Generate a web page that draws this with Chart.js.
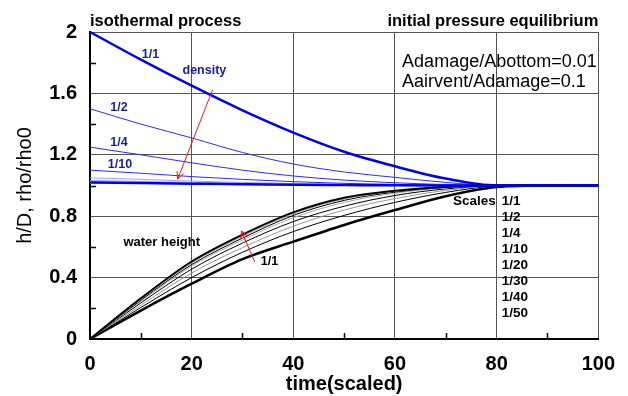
<!DOCTYPE html>
<html>
<head>
<meta charset="utf-8">
<script src="https://cdn.jsdelivr.net/npm/chart.js@4/dist/chart.umd.min.js"></script>
<style>
  html, body { margin: 0; padding: 0; background: #fff; }
  #wrap { width: 628px; height: 396px; }
</style>
</head>
<body>
<div id="wrap"><canvas id="tank" width="628" height="396"></canvas></div>
<script>
// model scales and sample times (scaled)
const scaleNames = ["1/1", "1/2", "1/4", "1/10", "1/20", "1/30", "1/40", "1/50"];
const timeSteps = [0, 10, 20, 30, 40, 50, 60, 70, 80, 90, 100];
const xTicks = [0, 20, 40, 60, 80, 100];
const yTicks = [0, 0.4, 0.8, 1.2, 1.6, 2];

// air density rho/rho0 in the compartment
const rho_1_1  = [2.0, 1.82, 1.65, 1.49, 1.345, 1.22, 1.125, 1.045, 1.0, 1.0, 1.0];
const rho_1_2  = [1.5, 1.40, 1.31, 1.215, 1.14, 1.088, 1.053, 1.02, 1.0, 1.0, 1.0];
const rho_1_4  = [1.25, 1.20, 1.148, 1.10, 1.062, 1.035, 1.018, 1.006, 1.0, 1.0, 1.0];
const rho_1_10 = [1.10, 1.08, 1.058, 1.04, 1.025, 1.014, 1.007, 1.002, 1.0, 1.0, 1.0];
const rho_1_20 = [1.05, 1.04, 1.029, 1.02, 1.013, 1.007, 1.003, 1.001, 1.0, 1.0, 1.0];
const rho_1_30 = [1.033, 1.027, 1.02, 1.013, 1.008, 1.005, 1.002, 1.0, 1.0, 1.0, 1.0];
const rho_1_40 = [1.025, 1.02, 1.015, 1.01, 1.006, 1.003, 1.001, 1.0, 1.0, 1.0, 1.0];
const rho_1_50 = [1.02, 1.016, 1.012, 1.008, 1.005, 1.003, 1.001, 1.0, 1.0, 1.0, 1.0];

// water height h/D
const h_1_1  = [0, 0.185, 0.36, 0.52, 0.634, 0.743, 0.84, 0.93, 0.99, 1.0, 1.0];
const h_1_2  = [0, 0.205, 0.40, 0.565, 0.70, 0.805, 0.89, 0.955, 0.996, 1.0, 1.0];
const h_1_4  = [0, 0.22, 0.43, 0.595, 0.735, 0.84, 0.915, 0.968, 0.998, 1.0, 1.0];
const h_1_10 = [0, 0.235, 0.455, 0.625, 0.765, 0.865, 0.935, 0.978, 0.999, 1.0, 1.0];
const h_1_20 = [0, 0.245, 0.475, 0.645, 0.79, 0.89, 0.95, 0.985, 1.0, 1.0, 1.0];
const h_1_30 = [0, 0.252, 0.485, 0.657, 0.805, 0.903, 0.957, 0.988, 1.0, 1.0, 1.0];
const h_1_40 = [0, 0.258, 0.495, 0.668, 0.815, 0.912, 0.962, 0.99, 1.0, 1.0, 1.0];
const h_1_50 = [0, 0.265, 0.505, 0.68, 0.825, 0.92, 0.966, 0.992, 1.0, 1.0, 1.0];

const rhoSeries = [rho_1_1, rho_1_2, rho_1_4, rho_1_10, rho_1_20, rho_1_30, rho_1_40, rho_1_50];
const hSeries = [h_1_1, h_1_2, h_1_4, h_1_10, h_1_20, h_1_30, h_1_40, h_1_50];

// line looks per scale
const rhoColors = ["#0000f0", "#2a2aff", "#2a2aff", "#2a2aff", "#a0a0ff", "#a0a0ff", "#a0a0ff", "#0000f0"];
const rhoWidths = [2.5, 1, 1, 1, 1, 1, 1, 2.5];
const hColors = ["#000", "#000", "#999", "#000", "#aaa", "#000", "#aaa", "#000"];
const hWidths = [2.5, 1, 1, 1, 1, 1, 1, 2];

const FONT = '"Liberation Sans", Arial, Helvetica, sans-serif';

function toPoints(values) {
  return timeSteps.map((t, i) => ({ x: t, y: values[i] }));
}

const datasets = [];
rhoSeries.forEach((vals, i) => {
  datasets.push({
    label: "density " + scaleNames[i],
    data: toPoints(vals),
    borderColor: rhoColors[i],
    borderWidth: rhoWidths[i],
    order: 8 - i,
  });
});
hSeries.forEach((vals, i) => {
  datasets.push({
    label: "water height " + scaleNames[i],
    data: toPoints(vals),
    borderColor: hColors[i],
    borderWidth: hWidths[i],
    order: 8 - i,
  });
});

// text notes, placed in data units
const notes = [
  { text: "1/1", x: 11.9, y: 1.85, color: "#1a1aa8", size: 12.5 },
  { text: "density", x: 22.5, y: 1.746, color: "#1a1aa8", size: 12.5 },
  { text: "1/2", x: 5.7, y: 1.505, color: "#1a1aa8", size: 12.5 },
  { text: "1/4", x: 5.7, y: 1.283, color: "#1a1aa8", size: 12.5 },
  { text: "1/10", x: 5.9, y: 1.134, color: "#1a1aa8", size: 12.5 },
  { text: "water height", x: 14.1, y: 0.632, color: "#000", size: 13 },
  { text: "1/1", x: 35.3, y: 0.502, color: "#000", size: 12.5 },
];

// red arrows: from -> tip, in data units
const arrows = [
  { x0: 24.1, y0: 1.622, x1: 17.25, y1: 1.042 },
  { x0: 32.4, y0: 0.502, x1: 29.8, y1: 0.704 },
];

function drawArrow(ctx, ax, ay, bx, by) {
  const ang = Math.atan2(by - ay, bx - ax);
  const len = 8;
  ctx.beginPath();
  ctx.moveTo(ax, ay);
  ctx.lineTo(bx, by);
  ctx.moveTo(bx, by);
  ctx.lineTo(bx - len * Math.cos(ang - 0.45), by - len * Math.sin(ang - 0.45));
  ctx.moveTo(bx, by);
  ctx.lineTo(bx - len * Math.cos(ang + 0.45), by - len * Math.sin(ang + 0.45));
  ctx.stroke();
}

const decorPlugin = {
  id: "decor",
  afterDraw(chart) {
    const { ctx, chartArea: area, scales: { x, y } } = chart;
    ctx.save();

    // minor inward ticks
    ctx.strokeStyle = "#000";
    ctx.lineWidth = 1.5;
    ctx.beginPath();
    [10, 30, 50, 70, 90].forEach((v) => {
      const px = Math.round(x.getPixelForValue(v)) + 0.5;
      ctx.moveTo(px, area.bottom);
      ctx.lineTo(px, area.bottom - 6);
    });
    [0.2, 0.6, 1.0, 1.4, 1.8].forEach((v) => {
      const py = Math.round(y.getPixelForValue(v)) + 0.5;
      ctx.moveTo(area.left, py);
      ctx.lineTo(area.left + 6, py);
    });
    ctx.stroke();

    // headings above the frame
    ctx.fillStyle = "#000";
    ctx.font = "bold 16.5px " + FONT;
    ctx.textBaseline = "middle";
    ctx.textAlign = "left";
    ctx.fillText("isothermal process", area.left, area.top - 11);
    ctx.textAlign = "right";
    ctx.fillText("initial pressure equilibrium", area.right, area.top - 11);

    // area ratios
    ctx.font = "18px " + FONT;
    ctx.textAlign = "left";
    ctx.fillText("Adamage/Abottom=0.01", x.getPixelForValue(61.4), y.getPixelForValue(1.805));
    ctx.fillText("Aairvent/Adamage=0.1", x.getPixelForValue(61.4), y.getPixelForValue(1.675));

    // curve notes
    ctx.textAlign = "center";
    notes.forEach((n) => {
      ctx.font = "bold " + n.size + "px " + FONT;
      ctx.fillStyle = n.color;
      ctx.fillText(n.text, x.getPixelForValue(n.x), y.getPixelForValue(n.y));
    });

    // list of scales
    ctx.font = "bold 13.5px " + FONT;
    ctx.fillStyle = "#000";
    const lx = x.getPixelForValue(81);
    const ly = y.getPixelForValue(0.9);
    ctx.textAlign = "right";
    ctx.fillText("Scales", lx - 6, ly);
    ctx.textAlign = "left";
    scaleNames.forEach((s, i) => ctx.fillText(s, lx, ly + i * 16));

    // arrows
    ctx.strokeStyle = "#ff1010";
    ctx.lineWidth = 1;
    arrows.forEach((a) => {
      drawArrow(ctx,
        x.getPixelForValue(a.x0), y.getPixelForValue(a.y0),
        x.getPixelForValue(a.x1), y.getPixelForValue(a.y1));
    });

    ctx.restore();
  },
};

new Chart(document.getElementById("tank"), {
  type: "line",
  data: { datasets },
  options: {
    responsive: false,
    animation: false,
    events: [],
    layout: { padding: { top: 32, right: 28, left: 0, bottom: 0 } },
    elements: {
      point: { radius: 0 },
      line: { cubicInterpolationMode: "monotone", fill: false },
    },
    datasets: { line: { clip: false } },
    plugins: { legend: { display: false }, tooltip: { enabled: false } },
    scales: {
      x: {
        type: "linear",
        min: 0,
        max: 100,
        afterFit: (s) => { s.height = 57; },
        afterBuildTicks: (s) => { s.ticks = xTicks.map((v) => ({ value: v })); },
        grid: { color: "#555", lineWidth: 1, drawTicks: false },
        border: { color: "#000", width: 2 },
        ticks: {
          padding: 13,
          color: "#000",
          font: { family: FONT, size: 20, weight: "bold" },
          callback: (v) => String(v),
        },
        title: {
          display: true,
          text: "time(scaled)",
          color: "#000",
          font: { family: FONT, size: 20, weight: "bold" },
          padding: { top: 0, bottom: 0 },
        },
      },
      y: {
        type: "linear",
        min: 0,
        max: 2,
        afterFit: (s) => { s.width = 90; },
        afterBuildTicks: (s) => { s.ticks = yTicks.map((v) => ({ value: v })); },
        grid: { color: "#555", lineWidth: 1, drawTicks: false },
        border: { color: "#000", width: 2 },
        ticks: {
          padding: 13,
          color: "#000",
          font: { family: FONT, size: 20, weight: "bold" },
          callback: (v) => String(Number(v.toFixed(1))),
        },
        title: {
          display: true,
          text: "h/D, rho/rho0",
          color: "#000",
          font: { family: FONT, size: 20 },
          padding: { top: 13, bottom: 0 },
        },
      },
    },
  },
  plugins: [decorPlugin],
});
</script>
</body>
</html>
